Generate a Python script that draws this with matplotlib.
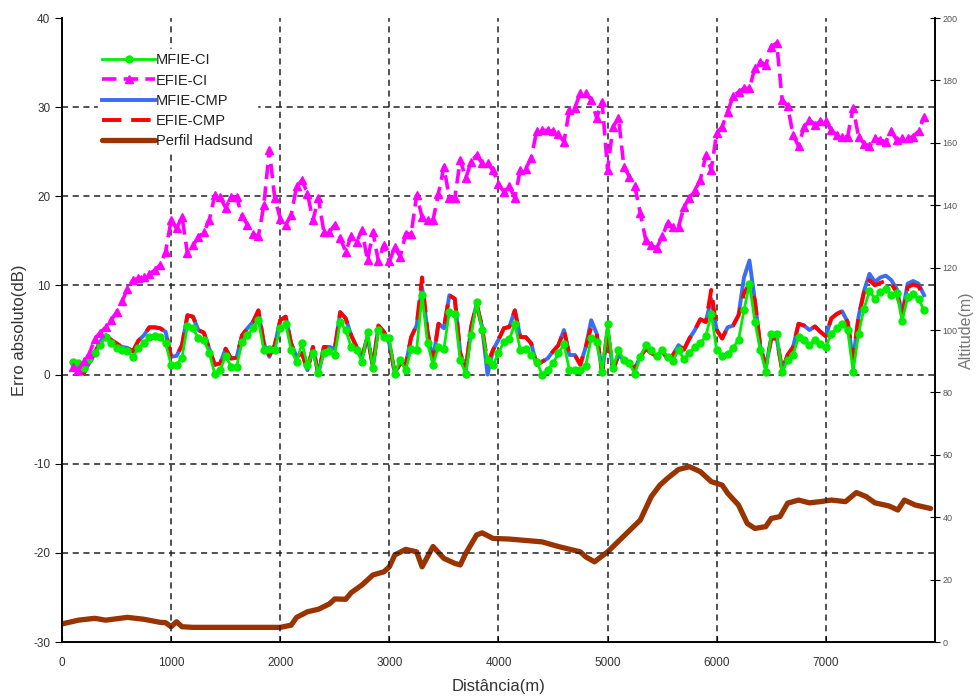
import numpy as np
import matplotlib.pyplot as plt

plt.rcParams['font.family'] = ['Liberation Sans', 'DejaVu Sans']
plt.rcParams['axes.unicode_minus'] = False

# distancia (m) dos pontos calculados, passo de 50 m
dist = np.arange(100, 7950, 50)

mfie_ci = [1.45, 1.26, 0.7, 1.8, 2.4, 3.3, 4.2, 3.5, 3.0, 2.75, 2.6, 2.0, 3.0, 3.5, 4.2, 4.3, 4.2, 3.5, 1.1, 1.1,
           1.9, 5.5, 5.2, 4.05, 3.9, 2.4, 0.1, 0.5, 2.1, 0.9, 0.9, 3.6, 4.4, 5.2, 6.1, 2.75, 2.9, 2.75, 5.2, 5.7,
           2.75, 1.45, 3.5, 1.1, 2.45, 0.2, 2.4, 2.6, 2.2, 5.9, 5.0, 3.1, 2.75, 1.45, 4.8, 0.7, 5.0, 4.2, 4.05, 0.1,
           1.6, 0.5, 2.9, 2.8, 8.9, 3.5, 1.1, 3.1, 2.9, 7.0, 6.8, 1.6, 0.1, 4.4, 8.1, 5.0, 1.6, 1.1, 2.4, 3.7,
           3.95, 5.7, 2.75, 2.9, 2.2, 1.45, 0.0, 0.5, 1.25, 2.4, 3.4, 0.5, 0.5, 0.5, 1.0, 4.05, 3.6, 0.3, 5.65, 0.7,
           2.75, 1.6, 1.25, 0.1, 2.0, 3.3, 2.8, 2.1, 2.75, 2.0, 1.55, 2.8, 1.7, 2.45, 3.1, 3.5, 4.3, 6.8, 2.75, 2.1,
           2.3, 3.0, 3.9, 7.2, 10.2, 5.9, 2.75, 0.3, 4.5, 4.5, 0.3, 1.6, 2.2, 4.2, 3.9, 3.3, 3.9, 3.4, 3.1, 4.6,
           5.2, 5.65, 5.0, 0.3, 4.6, 7.4, 9.4, 8.5, 9.3, 9.6, 8.9, 9.1, 6.0, 8.7, 9.0, 8.5, 7.2]

efie_ci = [0.9, 0.5, 1.5, 2.3, 4.0, 4.7, 5.3, 6.1, 7.0, 8.2, 9.6, 10.6, 10.8, 11.0, 11.3, 11.7, 12.3, 13.8, 17.3, 16.4,
           17.7, 13.6, 14.5, 15.4, 16.0, 17.3, 20.1, 19.9, 18.7, 19.9, 19.9, 17.8, 16.8, 15.8, 15.5, 19.0, 25.2, 19.8, 17.5, 16.8,
           17.9, 21.1, 21.8, 20.3, 17.3, 19.8, 16.0, 16.0, 16.8, 15.3, 13.8, 15.5, 14.9, 16.2, 12.8, 16.0, 12.7, 14.5, 12.7, 14.3,
           13.2, 15.8, 15.8, 20.1, 17.7, 17.3, 17.3, 20.3, 23.3, 19.8, 19.8, 24.1, 22.0, 23.9, 24.6, 23.7, 23.7, 22.9, 21.4, 20.5,
           21.1, 19.8, 23.0, 23.1, 24.3, 27.3, 27.4, 27.4, 27.3, 27.0, 26.1, 29.7, 29.9, 31.6, 31.6, 30.8, 28.8, 30.6, 23.0, 27.8,
           28.8, 23.3, 22.2, 21.1, 18.1, 15.1, 14.5, 14.2, 15.5, 17.0, 16.6, 16.6, 18.8, 19.8, 20.7, 21.8, 24.6, 23.0, 27.1, 27.8,
           29.5, 31.2, 31.7, 32.1, 32.1, 34.4, 35.1, 34.7, 36.8, 37.2, 30.8, 30.1, 26.9, 25.6, 27.8, 28.6, 28.0, 28.4, 28.4, 27.4,
           26.9, 26.7, 26.7, 29.9, 26.7, 25.9, 25.6, 26.5, 26.3, 26.1, 27.3, 26.3, 26.5, 26.5, 26.7, 27.3, 28.9]

mfie_cmp = [1.1, 0.1, 0.15, 1.3, 2.4, 3.7, 4.4, 3.9, 3.5, 3.1, 3.0, 2.6, 3.8, 4.4, 5.3, 5.3, 5.2, 4.8, 2.0, 2.1,
            3.3, 6.65, 6.5, 5.0, 4.7, 2.9, 1.1, 1.25, 2.9, 1.8, 1.9, 4.4, 5.2, 5.9, 7.2, 3.5, 2.0, 3.3, 6.1, 6.5,
            3.5, 2.0, 2.4, 0.5, 3.1, 0.0, 3.1, 3.1, 2.9, 7.0, 6.3, 4.4, 3.1, 2.0, 4.2, 0.9, 5.5, 4.8, 3.5, 0.15,
            1.25, 1.1, 4.2, 5.5, 9.8, 4.8, 1.6, 5.7, 5.2, 8.9, 8.5, 2.4, 0.5, 5.35, 7.95, 5.35, 0.0, 2.75, 3.9, 5.2,
            5.35, 7.2, 4.2, 4.2, 3.5, 1.1, 1.45, 1.8, 2.6, 3.3, 5.0, 2.2, 2.2, 1.1, 3.1, 6.1, 4.6, 0.15, 5.0, 0.5,
            2.2, 1.6, 1.1, 0.7, 2.0, 2.9, 2.4, 2.1, 2.6, 1.8, 2.2, 3.3, 2.8, 4.05, 5.0, 6.2, 5.9, 8.5, 5.0, 4.05,
            5.3, 5.5, 6.65, 10.9, 12.8, 8.3, 3.1, 0.9, 4.05, 4.05, 0.5, 2.2, 3.1, 5.7, 5.5, 5.0, 5.4, 4.8, 4.3, 6.3,
            6.8, 7.1, 5.9, 1.6, 6.5, 9.4, 11.3, 10.4, 10.9, 11.1, 10.6, 9.6, 6.8, 10.2, 10.5, 10.2, 8.9]

efie_cmp = [1.1, 0.1, 0.15, 1.3, 2.4, 3.7, 4.4, 3.9, 3.5, 3.1, 3.0, 2.6, 3.8, 4.4, 5.3, 5.3, 5.2, 4.8, 2.0, 2.1,
            3.3, 6.65, 6.5, 5.0, 4.7, 2.9, 1.1, 1.25, 2.9, 1.8, 1.9, 4.4, 5.2, 5.9, 7.2, 3.5, 2.2, 3.3, 6.1, 6.5,
            3.5, 2.0, 2.4, 0.5, 3.1, 0.0, 3.1, 3.1, 2.9, 7.0, 6.3, 4.4, 3.1, 2.0, 4.2, 0.9, 5.5, 4.8, 3.5, 0.15,
            1.25, 1.1, 4.2, 5.5, 10.9, 4.8, 1.6, 5.7, 5.2, 8.9, 8.5, 2.4, 0.5, 5.35, 7.95, 5.35, 1.3, 2.75, 3.9, 5.2,
            5.35, 7.2, 4.2, 4.2, 3.5, 1.1, 1.45, 1.8, 2.6, 3.3, 5.0, 2.2, 2.2, 1.1, 3.1, 5.3, 4.6, 0.15, 5.0, 0.5,
            2.2, 1.6, 1.1, 0.7, 2.0, 2.9, 2.4, 2.1, 2.6, 1.8, 2.2, 3.3, 2.8, 4.05, 5.0, 6.2, 5.9, 9.5, 5.0, 4.05,
            5.3, 5.5, 6.65, 9.1, 10.2, 8.3, 3.1, 0.9, 4.05, 4.05, 0.5, 2.2, 3.1, 5.7, 5.5, 5.0, 5.4, 4.8, 4.3, 6.3,
            6.8, 7.1, 5.9, 1.9, 6.5, 9.2, 10.6, 10.0, 10.3, 10.5, 10.2, 9.2, 6.6, 9.8, 10.1, 9.9, 8.6]

# perfil do terreno de Hadsund (altitude em m)
perfil_x = [0, 150, 300, 400, 600, 750, 900, 950, 1000, 1050, 1100, 1200, 1500, 2000, 2100, 2150, 2250, 2350,
            2450, 2500, 2600, 2650, 2750, 2850, 2950, 3000, 3050, 3150, 3250, 3300, 3400, 3500, 3600, 3650, 3700,
            3800, 3850, 3950, 4100, 4200, 4400, 4550, 4750, 4800, 4880, 5000, 5150, 5300, 5400, 5480, 5550, 5650,
            5750, 5850, 5950, 6050, 6100, 6200, 6280, 6350, 6450, 6500, 6580, 6650, 6750, 6850, 6950, 7050, 7180,
            7280, 7370, 7450, 7580, 7660, 7720, 7820, 7960]
perfil_alt = [5.8, 7.0, 7.6, 7.0, 7.9, 7.3, 6.3, 6.2, 4.9, 6.5, 4.9, 4.7, 4.7, 4.7, 5.4, 7.9, 9.7, 10.5,
              12.2, 13.8, 13.7, 15.8, 18.3, 21.5, 22.5, 24.1, 27.9, 29.7, 28.9, 24.1, 30.6, 26.8, 25.2, 24.7, 28.4,
              34.3, 35.0, 33.2, 33.0, 32.7, 32.1, 30.6, 28.9, 27.3, 25.7, 28.9, 34.0, 39.1, 46.6, 50.3, 52.5, 55.3,
              56.2, 54.6, 51.4, 50.3, 47.7, 43.9, 38.0, 36.4, 37.0, 39.6, 40.2, 44.5, 45.5, 44.6, 45.0, 45.5, 45.0,
              47.9, 46.6, 44.6, 43.6, 42.3, 45.5, 43.9, 42.8]

fig = plt.figure(figsize=(9.79, 6.98), dpi=100)
ax = fig.add_axes([0.0633, 0.0802, 0.8917, 0.8940])
ax2 = ax.twinx()

# o perfil fica no eixo da direita mas e desenhado por baixo das curvas de erro
ax.set_zorder(ax2.get_zorder() + 1)
ax.patch.set_visible(False)

l5, = ax2.plot(perfil_x, perfil_alt, color='#993300', lw=3.8, solid_capstyle='round', label='Perfil Hadsund')

l3, = ax.plot(dist, mfie_cmp, color='#3a6cf5', lw=2.8, label='MFIE-CMP')
l4, = ax.plot(dist, efie_cmp, color='#ff0000', lw=2.8, dashes=(5, 2.5), label='EFIE-CMP')
l1, = ax.plot(dist, mfie_ci, color='#00ee00', lw=2.0, marker='o', ms=5, label='MFIE-CI')
l2, = ax.plot(dist, efie_ci, color='#ff00ff', lw=2.6, dashes=(4, 2), marker='^', ms=6, label='EFIE-CI')

ax.set_xlim(0, 8000)
ax.set_ylim(-30, 40)
ax2.set_ylim(0, 200)

ax.set_xticks(np.arange(0, 8000, 1000))
ax.set_yticks(np.arange(-30, 41, 10))
ax2.set_yticks(np.arange(0, 201, 20))

# grade tracejada so nas linhas internas
for xv in range(1000, 8000, 1000):
    ax.axvline(xv, color='#222222', lw=1.1, dashes=(4, 3), zorder=0)
for yv in range(-20, 40, 10):
    ax.axhline(yv, color='#222222', lw=1.1, dashes=(4, 3), zorder=0)

for a in (ax, ax2):
    a.spines['top'].set_visible(False)
    for s in a.spines.values():
        s.set_linewidth(1.2)

ax.tick_params(axis='x', direction='in', length=4, labelsize=8.5, labelcolor='#333333', pad=11)
ax.tick_params(axis='y', direction='out', length=5, labelsize=8.5, labelcolor='#333333')
ax2.tick_params(axis='y', direction='inout', length=7, labelsize=6.5, labelcolor='#555555', pad=2)

ax.set_xlabel('Distância(m)', fontsize=12, color='#333333', labelpad=7)
ax.set_ylabel('Erro absoluto(dB)', fontsize=12, color='#333333', labelpad=4)
ax2.set_ylabel('Altitude(m)', fontsize=11.5, color='#777777', labelpad=1)

leg = ax.legend(handles=[l1, l2, l3, l4, l5], loc='upper left', bbox_to_anchor=(0.033, 0.962),
                frameon=True, fancybox=False, edgecolor='white', framealpha=1.0, fontsize=10.5,
                handlelength=3.6, handletextpad=0.05, labelspacing=0.42, borderpad=0.3)
for t in leg.get_texts():
    t.set_color('#222222')

fig.savefig('out.png', dpi=100)
